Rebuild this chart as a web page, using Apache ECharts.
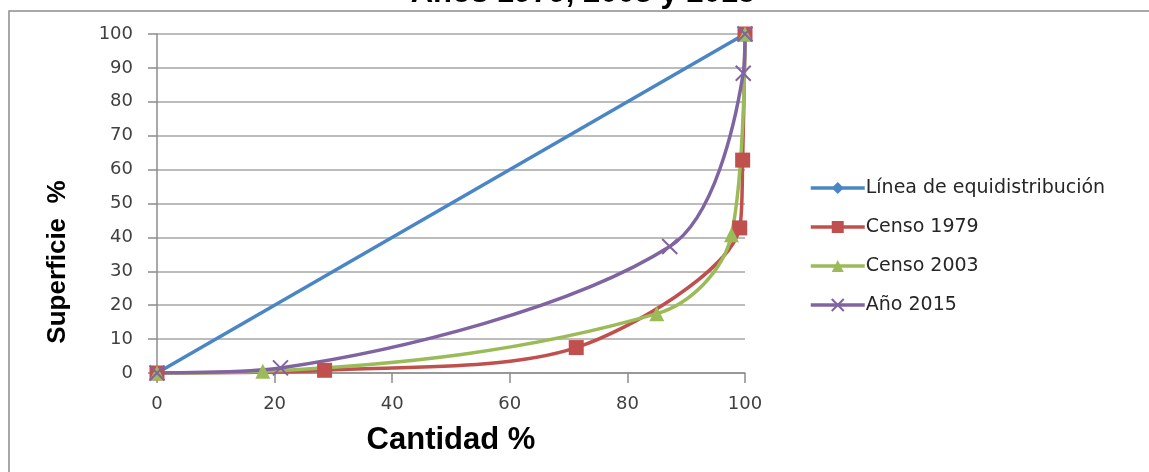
<!DOCTYPE html>
<html>
<head>
<meta charset="utf-8">
<script src="https://cdn.jsdelivr.net/npm/echarts@6/dist/echarts.min.js"></script>
<style>
html,body{margin:0;padding:0;background:#fff;}
#chart{width:1149px;height:472px;}
</style>
</head>
<body>
<div id="chart"></div>
<script>
var titleText = 'Años 1979, 2003 y 2015';
var xName = 'Cantidad %';
var yName = 'Superficie  %';
var seriesNames = ['Línea de equidistribución', 'Censo 1979', 'Censo 2003', 'Año 2015'];
var equi = [[0, 0], [100, 100]];
var censo1979 = [[0, 0], [28.5, 0.8], [71.3, 7.5], [99.1, 42.8], [99.6, 62.8], [100, 100]];
var censo2003 = [[0, 0], [18, 0.5], [85, 17.5], [97.7, 40.8], [100, 100]];
var anio2015 = [[0, 0], [21, 1.5], [87.2, 37.3], [99.7, 88.4], [100, 100]];
var xTicks = [0, 20, 40, 60, 80, 100];

var colors = ['#4a86c5', '#c0504d', '#9bbb59', '#8064a2'];
var xSymbol = 'path://M0,0L10,10M10,0L0,10';

var chart = echarts.init(document.getElementById('chart'));
var labelFont = {color: '#404040', fontSize: 18, fontFamily: 'DejaVu Sans'};
var option = {
  animation: false,
  backgroundColor: '#fff',
  grid: {left: 157, right: 404, top: 34, bottom: 99, containLabel: false},
  graphic: [
    {type: 'rect', shape: {x: 9, y: 11, width: 1200, height: 520}, style: {fill: 'none', stroke: '#8c8c8c', lineWidth: 1.5}, z: -1},
    {type: 'text', x: 583, y: -7, style: {text: titleText, align: 'center', verticalAlign: 'middle', font: 'bold 31px "Liberation Sans", Arial', fill: '#000'}},
    {type: 'text', x: 58, y: 262, rotation: Math.PI / 2, style: {text: yName, align: 'center', verticalAlign: 'middle', font: 'bold 26px "Liberation Sans", Arial', fill: '#000'}}
  ],
  legend: {
    orient: 'vertical', left: 804, top: 173,
    itemWidth: 54, itemHeight: 15, itemGap: 19,
    lineStyle: {width: 3.5},
    textStyle: {fontSize: 19, fontFamily: 'DejaVu Sans', color: '#262626', lineHeight: 20, padding: [0, 0, 0, -4]},
    data: seriesNames.map(function (n) { return {name: n}; })
  },
  xAxis: {
    type: 'value', min: 0, max: 100, interval: 20,
    name: xName, nameLocation: 'middle', nameGap: 52,
    nameTextStyle: {fontSize: 31, fontWeight: 'bold', fontFamily: 'Liberation Sans', color: '#000'},
    axisLine: {show: true, lineStyle: {color: '#8c8c8c', width: 1.5}},
    axisTick: {show: true, inside: false, length: 10, lineStyle: {color: '#8c8c8c', width: 1.5}},
    axisLabel: Object.assign({margin: 22, formatter: function (v) { return xTicks.indexOf(v) >= 0 ? String(v) : ''; }}, labelFont),
    splitLine: {show: false}
  },
  yAxis: {
    type: 'value', min: 0, max: 100, interval: 10,
    axisLine: {show: true, lineStyle: {color: '#8c8c8c', width: 1.5}},
    axisTick: {show: true, inside: false, length: 9, lineStyle: {color: '#8c8c8c', width: 1.5}},
    axisLabel: Object.assign({margin: 24}, labelFont),
    splitLine: {show: true, lineStyle: {color: '#a6a6a6', width: 1.5}}
  },
  series: [
    {name: seriesNames[0], type: 'line', data: equi, symbol: 'diamond', symbolSize: 12,
      lineStyle: {color: colors[0], width: 3.5}, itemStyle: {color: colors[0]}},
    {name: seriesNames[1], type: 'line', data: censo1979, smooth: 0.3, symbol: 'rect', symbolSize: 15,
      lineStyle: {color: colors[1], width: 3.5}, itemStyle: {color: colors[1]}},
    {name: seriesNames[2], type: 'line', data: censo2003, smooth: 0.35, symbol: 'triangle', symbolSize: 15,
      lineStyle: {color: colors[2], width: 3.5}, itemStyle: {color: colors[2]}},
    {name: seriesNames[3], type: 'line', data: anio2015, smooth: 0.3, symbol: xSymbol, symbolSize: 15,
      lineStyle: {color: colors[3], width: 3.5}, itemStyle: {color: 'rgba(0,0,0,0)', borderColor: colors[3], borderWidth: 2}}
  ]
};
chart.setOption(option);
</script>
</body>
</html>
